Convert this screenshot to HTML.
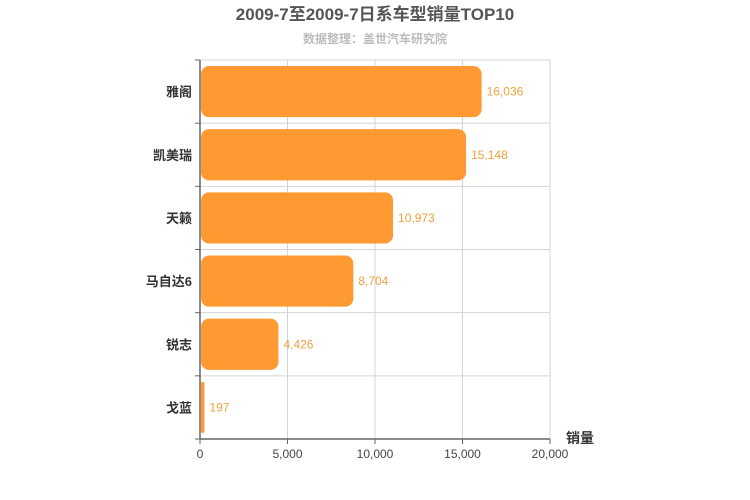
<!DOCTYPE html>
<html><head><meta charset="utf-8"><style>
body{margin:0;background:#fff;}
svg{display:block;font-family:"Liberation Sans","Noto Sans CJK SC",sans-serif;}
</style></head><body>
<svg id="c" width="750" height="500">
<text x="375" y="20" text-anchor="middle" font-size="17" font-weight="bold" fill="#555">2009-7至2009-7日系车型销量TOP10</text>
<text x="375" y="43" text-anchor="middle" font-size="12" font-weight="bold" fill="#bbb">数据整理：盖世汽车研究院</text>
<text x="580" y="443" text-anchor="middle" font-size="14" font-weight="bold" fill="#333">销量</text>
<g id="g"></g>
</svg>
<script>
const categories=["雅阁","凯美瑞","天籁","马自达6","锐志","戈蓝"];
const values=[16036,15148,10973,8704,4426,197];
const ticks=[0,5000,10000,15000,20000];
const X0=200,X1=550,Y0=60,Y1=439,MAX=20000;
const ns="http://www.w3.org/2000/svg";
const g=document.getElementById('g');
const xs=v=>X0+(v/MAX)*(X1-X0);
const band=(Y1-Y0)/categories.length;
function mk(t,a,p){const e=document.createElementNS(ns,t);for(const k in a)e.setAttribute(k,a[k]);(p||g).appendChild(e);return e;}
ticks.forEach(t=>{
 const x=xs(t);
 const l=mk('line',{x1:x,x2:x,y1:Y0,y2:Y1,stroke:'#d4d4d4'});
 
 
 mk('line',{x1:x,x2:x,y1:Y1,y2:Y1+5,stroke:'#666'});
 const tx=mk('text',{x:x,y:Y1+19,'text-anchor':'middle','font-size':12,fill:'#444'});
 tx.textContent=t.toLocaleString('en-US');
 
 
});
for(let i=0;i<=categories.length;i++){
 const y=Y0+i*band;
 const l=mk('line',{x1:X0,x2:X1,y1:y,y2:y,stroke:'#d4d4d4'});
 
 
 mk('line',{x1:X0-5,x2:X0,y1:y,y2:y,stroke:'#666'});
}
mk('line',{x1:X0,x2:X0,y1:Y0,y2:Y1,stroke:'#666','stroke-width':1.5});
mk('line',{x1:X0,x2:X1,y1:Y1,y2:Y1,stroke:'#666','stroke-width':1.5});
categories.forEach((c,i)=>{
 const y=Y0+i*band,cy=y+band/2;
 const w=Math.max(xs(values[i])-X0,3);
 const r=mk('rect',{x:X0+1,y:y+6,width:w,height:band-12,rx:Math.min(8,w/2),fill:'#ff9a33'});
 
 
 const lb=mk('text',{x:X0-8,y:cy+5,'text-anchor':'end','font-size':13,'font-weight':'bold',fill:'#333'});
 lb.textContent=c;
 
 
 const vl=mk('text',{x:X0+w+6,y:cy+4,'font-size':12,fill:'#f0a040'});
 vl.textContent=values[i].toLocaleString('en-US');
 
 
});
</script>
</body></html>
